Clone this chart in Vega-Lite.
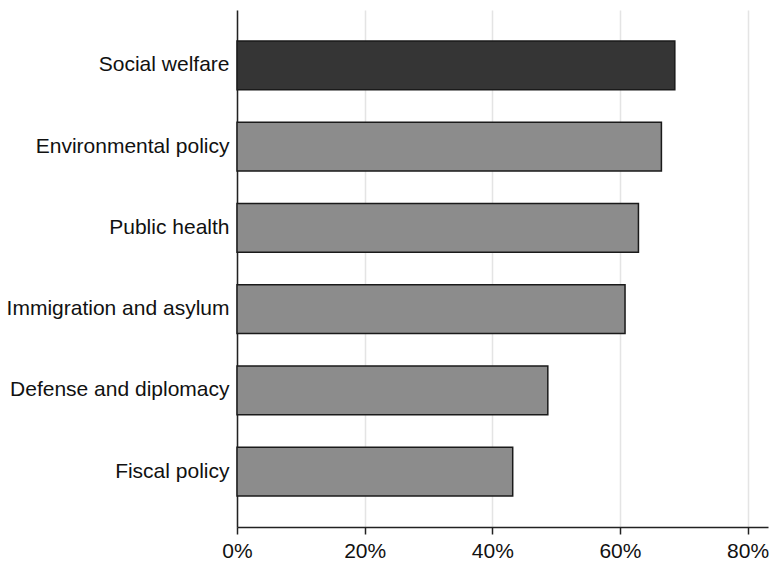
{
  "$schema": "https://vega.github.io/schema/vega-lite/v6.json",
  "autosize": {"type": "none"},
  "width": 531,
  "height": 517,
  "padding": {"left": 237, "top": 10, "right": 3, "bottom": 35},
  "background": "white",
  "config": {
    "view": {"stroke": null},
    "font": "Liberation Sans"
  },
  "data": {
    "values": [
      {"topic": "Social welfare", "share": 0.686},
      {"topic": "Environmental policy", "share": 0.665},
      {"topic": "Public health", "share": 0.629},
      {"topic": "Immigration and asylum", "share": 0.608},
      {"topic": "Defense and diplomacy", "share": 0.487},
      {"topic": "Fiscal policy", "share": 0.432}
    ]
  },
  "mark": {"type": "bar", "stroke": "#1a1a1a", "strokeWidth": 1.5},
  "encoding": {
    "y": {
      "field": "topic",
      "type": "nominal",
      "sort": null,
      "scale": {"paddingInner": 0.4, "paddingOuter": 0.38},
      "axis": {
        "title": null,
        "ticks": false,
        "labelPadding": 8,
        "labelFont": "Liberation Sans",
        "labelFontSize": 21,
        "labelColor": "#111111",
        "labelLimit": 400,
        "domainColor": "#222222",
        "domainWidth": 1.5,
        "grid": false
      }
    },
    "x": {
      "field": "share",
      "type": "quantitative",
      "scale": {"domain": [0, 0.832], "nice": false, "zero": true},
      "axis": {
        "title": null,
        "values": [0, 0.2, 0.4, 0.6, 0.8],
        "format": ".0%",
        "grid": true,
        "gridColor": "#e4e4e4",
        "gridWidth": 1.5,
        "tickColor": "#222222",
        "tickSize": 7,
        "tickWidth": 1.5,
        "domainColor": "#222222",
        "domainWidth": 1.5,
        "labelFont": "Liberation Sans",
        "labelFontSize": 21,
        "labelColor": "#111111",
        "labelPadding": 6,
        "labelFlush": false
      }
    },
    "color": {
      "condition": {"test": "datum.topic === 'Social welfare'", "value": "#353535"},
      "value": "#8c8c8c"
    }
  }
}
